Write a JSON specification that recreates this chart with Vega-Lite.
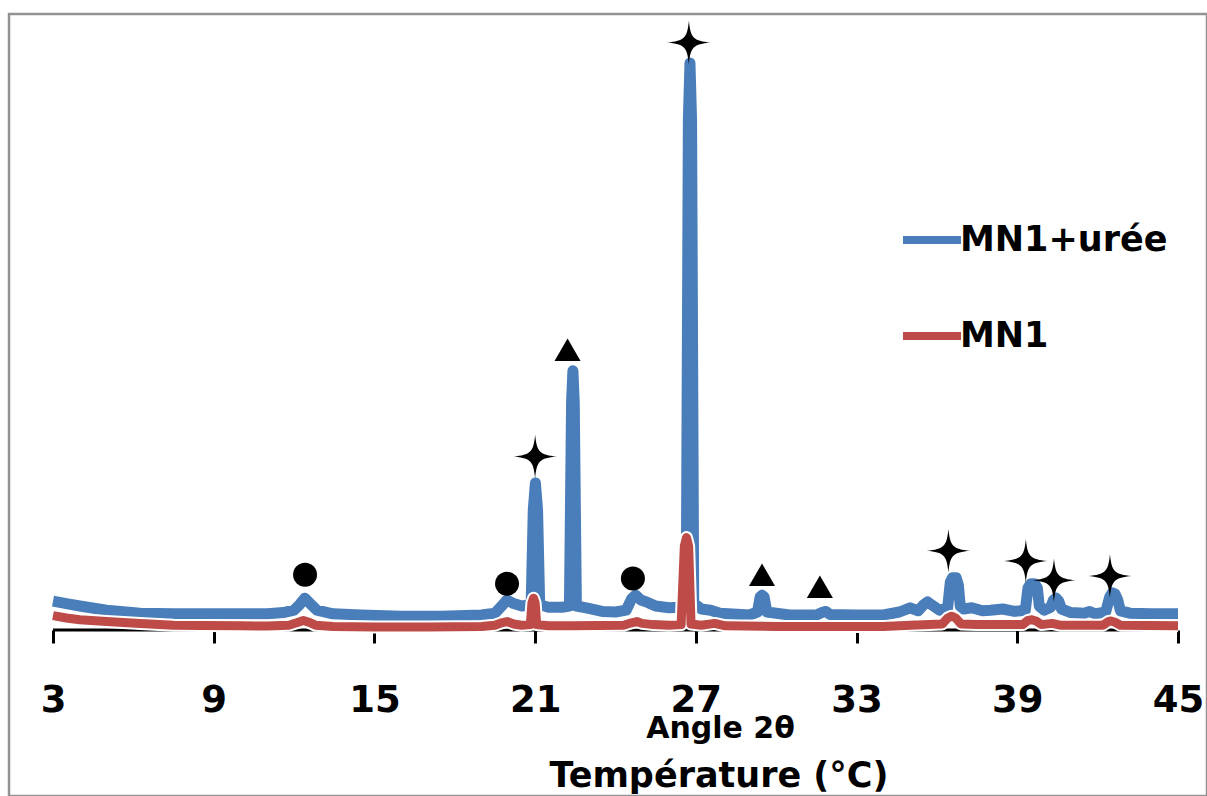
{
  "$schema": "https://vega.github.io/schema/vega-lite/v6.json",
  "width": 1198,
  "height": 782,
  "autosize": {"type": "none"},
  "padding": {"left": 9, "top": 14, "right": 0, "bottom": 0},
  "background": "white",
  "config": {
    "view": {"stroke": "#939393", "strokeWidth": 2.5},
    "font": "DejaVu Sans"
  },
  "datasets": {
    "spectra": [
      {"series": "MN1+urée", "angle": 3.0, "intensity": 48},
      {"series": "MN1+urée", "angle": 3.5, "intensity": 44},
      {"series": "MN1+urée", "angle": 4.0, "intensity": 40},
      {"series": "MN1+urée", "angle": 5.0, "intensity": 33},
      {"series": "MN1+urée", "angle": 6.25, "intensity": 28},
      {"series": "MN1+urée", "angle": 7.5, "intensity": 27},
      {"series": "MN1+urée", "angle": 8.5, "intensity": 27},
      {"series": "MN1+urée", "angle": 10.0, "intensity": 27},
      {"series": "MN1+urée", "angle": 11.0, "intensity": 27},
      {"series": "MN1+urée", "angle": 11.6, "intensity": 29},
      {"series": "MN1+urée", "angle": 12.0, "intensity": 33},
      {"series": "MN1+urée", "angle": 12.2, "intensity": 42},
      {"series": "MN1+urée", "angle": 12.4, "intensity": 53},
      {"series": "MN1+urée", "angle": 12.6, "intensity": 44},
      {"series": "MN1+urée", "angle": 12.85, "intensity": 33},
      {"series": "MN1+urée", "angle": 13.45, "intensity": 27},
      {"series": "MN1+urée", "angle": 14.5, "intensity": 25},
      {"series": "MN1+urée", "angle": 16.0, "intensity": 23},
      {"series": "MN1+urée", "angle": 17.5, "intensity": 23},
      {"series": "MN1+urée", "angle": 19.0, "intensity": 25},
      {"series": "MN1+urée", "angle": 19.5, "intensity": 28},
      {"series": "MN1+urée", "angle": 19.75, "intensity": 40},
      {"series": "MN1+urée", "angle": 19.95, "intensity": 50},
      {"series": "MN1+urée", "angle": 20.2, "intensity": 44},
      {"series": "MN1+urée", "angle": 20.5, "intensity": 40},
      {"series": "MN1+urée", "angle": 20.85, "intensity": 42},
      {"series": "MN1+urée", "angle": 20.93, "intensity": 200},
      {"series": "MN1+urée", "angle": 21.01, "intensity": 245},
      {"series": "MN1+urée", "angle": 21.09, "intensity": 200},
      {"series": "MN1+urée", "angle": 21.17, "intensity": 42},
      {"series": "MN1+urée", "angle": 21.5, "intensity": 38},
      {"series": "MN1+urée", "angle": 22.0, "intensity": 38},
      {"series": "MN1+urée", "angle": 22.28, "intensity": 40},
      {"series": "MN1+urée", "angle": 22.36, "intensity": 380},
      {"series": "MN1+urée", "angle": 22.41, "intensity": 432},
      {"series": "MN1+urée", "angle": 22.46, "intensity": 380},
      {"series": "MN1+urée", "angle": 22.54, "intensity": 40},
      {"series": "MN1+urée", "angle": 23.0, "intensity": 36},
      {"series": "MN1+urée", "angle": 23.5, "intensity": 31},
      {"series": "MN1+urée", "angle": 24.0, "intensity": 30},
      {"series": "MN1+urée", "angle": 24.4, "intensity": 33},
      {"series": "MN1+urée", "angle": 24.6, "intensity": 52},
      {"series": "MN1+urée", "angle": 24.75, "intensity": 58},
      {"series": "MN1+urée", "angle": 24.95, "intensity": 50},
      {"series": "MN1+urée", "angle": 25.2, "intensity": 46},
      {"series": "MN1+urée", "angle": 25.5, "intensity": 40},
      {"series": "MN1+urée", "angle": 26.0, "intensity": 37},
      {"series": "MN1+urée", "angle": 26.4, "intensity": 38},
      {"series": "MN1+urée", "angle": 26.64, "intensity": 40},
      {"series": "MN1+urée", "angle": 26.72, "intensity": 850},
      {"series": "MN1+urée", "angle": 26.78, "intensity": 945},
      {"series": "MN1+urée", "angle": 26.84, "intensity": 850},
      {"series": "MN1+urée", "angle": 26.92, "intensity": 45},
      {"series": "MN1+urée", "angle": 27.2, "intensity": 35},
      {"series": "MN1+urée", "angle": 27.55, "intensity": 33},
      {"series": "MN1+urée", "angle": 27.9, "intensity": 28},
      {"series": "MN1+urée", "angle": 29.0, "intensity": 25},
      {"series": "MN1+urée", "angle": 29.3, "intensity": 30},
      {"series": "MN1+urée", "angle": 29.4, "intensity": 55},
      {"series": "MN1+urée", "angle": 29.47, "intensity": 58},
      {"series": "MN1+urée", "angle": 29.55, "intensity": 55},
      {"series": "MN1+urée", "angle": 29.65, "intensity": 30},
      {"series": "MN1+urée", "angle": 30.5, "intensity": 25},
      {"series": "MN1+urée", "angle": 31.5, "intensity": 25},
      {"series": "MN1+urée", "angle": 31.75, "intensity": 30},
      {"series": "MN1+urée", "angle": 31.85, "intensity": 31},
      {"series": "MN1+urée", "angle": 32.0, "intensity": 26},
      {"series": "MN1+urée", "angle": 33.0, "intensity": 25},
      {"series": "MN1+urée", "angle": 34.0, "intensity": 25},
      {"series": "MN1+urée", "angle": 34.6, "intensity": 30},
      {"series": "MN1+urée", "angle": 35.0, "intensity": 37},
      {"series": "MN1+urée", "angle": 35.3, "intensity": 32},
      {"series": "MN1+urée", "angle": 35.5, "intensity": 42},
      {"series": "MN1+urée", "angle": 35.65, "intensity": 47},
      {"series": "MN1+urée", "angle": 35.8, "intensity": 42},
      {"series": "MN1+urée", "angle": 36.1, "intensity": 33},
      {"series": "MN1+urée", "angle": 36.4, "intensity": 37},
      {"series": "MN1+urée", "angle": 36.5, "intensity": 80},
      {"series": "MN1+urée", "angle": 36.58, "intensity": 87},
      {"series": "MN1+urée", "angle": 36.72, "intensity": 87},
      {"series": "MN1+urée", "angle": 36.8, "intensity": 75},
      {"series": "MN1+urée", "angle": 36.87, "intensity": 40},
      {"series": "MN1+urée", "angle": 37.0, "intensity": 35},
      {"series": "MN1+urée", "angle": 37.3, "intensity": 37},
      {"series": "MN1+urée", "angle": 37.7, "intensity": 32},
      {"series": "MN1+urée", "angle": 38.0, "intensity": 33},
      {"series": "MN1+urée", "angle": 38.45, "intensity": 35},
      {"series": "MN1+urée", "angle": 38.9, "intensity": 31},
      {"series": "MN1+urée", "angle": 39.3, "intensity": 33},
      {"series": "MN1+urée", "angle": 39.4, "intensity": 70},
      {"series": "MN1+urée", "angle": 39.5, "intensity": 77},
      {"series": "MN1+urée", "angle": 39.65, "intensity": 77},
      {"series": "MN1+urée", "angle": 39.75, "intensity": 70},
      {"series": "MN1+urée", "angle": 39.82, "intensity": 40},
      {"series": "MN1+urée", "angle": 40.0, "intensity": 33},
      {"series": "MN1+urée", "angle": 40.25, "intensity": 38},
      {"series": "MN1+urée", "angle": 40.35, "intensity": 50},
      {"series": "MN1+urée", "angle": 40.45, "intensity": 53},
      {"series": "MN1+urée", "angle": 40.55, "intensity": 48},
      {"series": "MN1+urée", "angle": 40.65, "intensity": 35},
      {"series": "MN1+urée", "angle": 41.0, "intensity": 29},
      {"series": "MN1+urée", "angle": 41.5, "intensity": 28},
      {"series": "MN1+urée", "angle": 41.7, "intensity": 31},
      {"series": "MN1+urée", "angle": 41.9, "intensity": 27},
      {"series": "MN1+urée", "angle": 42.3, "intensity": 30},
      {"series": "MN1+urée", "angle": 42.45, "intensity": 55},
      {"series": "MN1+urée", "angle": 42.55, "intensity": 62},
      {"series": "MN1+urée", "angle": 42.65, "intensity": 60},
      {"series": "MN1+urée", "angle": 42.75, "intensity": 50},
      {"series": "MN1+urée", "angle": 42.85, "intensity": 32},
      {"series": "MN1+urée", "angle": 43.2, "intensity": 28},
      {"series": "MN1+urée", "angle": 44.0, "intensity": 27},
      {"series": "MN1+urée", "angle": 45.0, "intensity": 27},
      {"series": "MN1", "angle": 3.0, "intensity": 24},
      {"series": "MN1", "angle": 3.5, "intensity": 20},
      {"series": "MN1", "angle": 4.0, "intensity": 17},
      {"series": "MN1", "angle": 5.0, "intensity": 14},
      {"series": "MN1", "angle": 6.25, "intensity": 11},
      {"series": "MN1", "angle": 7.5, "intensity": 8},
      {"series": "MN1", "angle": 8.5, "intensity": 7.5},
      {"series": "MN1", "angle": 10.0, "intensity": 7},
      {"series": "MN1", "angle": 11.0, "intensity": 6.5},
      {"series": "MN1", "angle": 11.8, "intensity": 8},
      {"series": "MN1", "angle": 12.1, "intensity": 12},
      {"series": "MN1", "angle": 12.35, "intensity": 16},
      {"series": "MN1", "angle": 12.55, "intensity": 13},
      {"series": "MN1", "angle": 12.8, "intensity": 8},
      {"series": "MN1", "angle": 13.45, "intensity": 6},
      {"series": "MN1", "angle": 15.0, "intensity": 5},
      {"series": "MN1", "angle": 17.0, "intensity": 5},
      {"series": "MN1", "angle": 19.0, "intensity": 6},
      {"series": "MN1", "angle": 19.5, "intensity": 8},
      {"series": "MN1", "angle": 19.75, "intensity": 12},
      {"series": "MN1", "angle": 19.95, "intensity": 14},
      {"series": "MN1", "angle": 20.2, "intensity": 10},
      {"series": "MN1", "angle": 20.5, "intensity": 8},
      {"series": "MN1", "angle": 20.82, "intensity": 9},
      {"series": "MN1", "angle": 20.88, "intensity": 45},
      {"series": "MN1", "angle": 20.94, "intensity": 53},
      {"series": "MN1", "angle": 21.0, "intensity": 45},
      {"series": "MN1", "angle": 21.06, "intensity": 9},
      {"series": "MN1", "angle": 21.5, "intensity": 7},
      {"series": "MN1", "angle": 22.4, "intensity": 7},
      {"series": "MN1", "angle": 24.3, "intensity": 8},
      {"series": "MN1", "angle": 24.6, "intensity": 12},
      {"series": "MN1", "angle": 24.8, "intensity": 14},
      {"series": "MN1", "angle": 25.0, "intensity": 11},
      {"series": "MN1", "angle": 25.4, "intensity": 9},
      {"series": "MN1", "angle": 26.0, "intensity": 8},
      {"series": "MN1", "angle": 26.45, "intensity": 9},
      {"series": "MN1", "angle": 26.57, "intensity": 140},
      {"series": "MN1", "angle": 26.65, "intensity": 154},
      {"series": "MN1", "angle": 26.73, "intensity": 140},
      {"series": "MN1", "angle": 26.82, "intensity": 10},
      {"series": "MN1", "angle": 27.2, "intensity": 8},
      {"series": "MN1", "angle": 27.7, "intensity": 11},
      {"series": "MN1", "angle": 28.1, "intensity": 7},
      {"series": "MN1", "angle": 30.0, "intensity": 6},
      {"series": "MN1", "angle": 34.0, "intensity": 6},
      {"series": "MN1", "angle": 35.0, "intensity": 8},
      {"series": "MN1", "angle": 36.2, "intensity": 10},
      {"series": "MN1", "angle": 36.4, "intensity": 20},
      {"series": "MN1", "angle": 36.55, "intensity": 23},
      {"series": "MN1", "angle": 36.7, "intensity": 20},
      {"series": "MN1", "angle": 36.9, "intensity": 10},
      {"series": "MN1", "angle": 37.5, "intensity": 9},
      {"series": "MN1", "angle": 39.2, "intensity": 9},
      {"series": "MN1", "angle": 39.4, "intensity": 16},
      {"series": "MN1", "angle": 39.55, "intensity": 17},
      {"series": "MN1", "angle": 39.7, "intensity": 15},
      {"series": "MN1", "angle": 39.9, "intensity": 9},
      {"series": "MN1", "angle": 40.3, "intensity": 11},
      {"series": "MN1", "angle": 40.6, "intensity": 8},
      {"series": "MN1", "angle": 42.2, "intensity": 8},
      {"series": "MN1", "angle": 42.4, "intensity": 14},
      {"series": "MN1", "angle": 42.5, "intensity": 15},
      {"series": "MN1", "angle": 42.65, "intensity": 13},
      {"series": "MN1", "angle": 42.85, "intensity": 8},
      {"series": "MN1", "angle": 45.0, "intensity": 7}
    ],
    "markers": [
      {"symbol": "star", "angle": 26.74, "intensity": 979},
      {"symbol": "star", "angle": 21.0, "intensity": 289},
      {"symbol": "star", "angle": 36.43, "intensity": 132},
      {"symbol": "star", "angle": 39.32, "intensity": 115},
      {"symbol": "star", "angle": 40.37, "intensity": 83},
      {"symbol": "star", "angle": 42.46, "intensity": 90},
      {"symbol": "circle", "angle": 12.41, "intensity": 92},
      {"symbol": "circle", "angle": 19.95, "intensity": 77},
      {"symbol": "circle", "angle": 24.65, "intensity": 86},
      {"symbol": "triangle", "angle": 22.21, "intensity": 467},
      {"symbol": "triangle", "angle": 29.47, "intensity": 92},
      {"symbol": "triangle", "angle": 31.63, "intensity": 72}
    ]
  },
  "layer": [
    {
      "data": {"values": [{"from": 3, "to": 45, "level": 0}]},
      "mark": {"type": "rule", "color": "black", "strokeWidth": 3},
      "encoding": {
        "x": {
          "field": "from", "type": "quantitative",
          "scale": {"domain": [1.35733, 46.0827], "nice": false, "zero": false},
          "axis": {
            "values": [3, 9, 15, 21, 27, 33, 39, 45],
            "domain": false, "grid": false,
            "ticks": true, "tickSize": 13, "tickWidth": 3, "tickColor": "black",
            "offset": -166,
            "labelFont": "DejaVu Sans", "labelFontWeight": "bold", "labelFontSize": 37, "labelColor": "black",
            "labelBaseline": "alphabetic", "labelPadding": 68, "labelFlush": false, "labelOverlap": false,
            "title": "Angle 2θ",
            "titleFont": "DejaVu Sans", "titleFontWeight": "bold", "titleFontSize": 30, "titleColor": "black",
            "titleX": 711, "titleY": 107, "titleAlign": "center", "titleBaseline": "alphabetic"
          }
        },
        "x2": {"field": "to"},
        "y": {"field": "level", "type": "quantitative", "scale": {"domain": [-276.667, 1026.667], "nice": false, "zero": false}, "axis": null}
      }
    },
    {
      "data": {"name": "spectra"},
      "transform": [{"filter": "datum.series === 'MN1+urée'"}],
      "mark": {"type": "line", "strokeWidth": 11, "strokeJoin": "round"},
      "encoding": {
        "x": {"field": "angle", "type": "quantitative"},
        "y": {"field": "intensity", "type": "quantitative"},
        "color": {
          "field": "series", "type": "nominal",
          "scale": {"domain": ["MN1+urée", "MN1"], "range": ["#4a7ebb", "#be4b48"]},
          "legend": {
            "orient": "none", "legendX": 890, "legendY": 193, "title": null,
            "symbolType": "stroke", "symbolSize": 3364, "symbolStrokeWidth": 8,
            "labelFont": "DejaVu Sans", "labelFontWeight": "bold", "labelFontSize": 35, "labelColor": "black",
            "labelOffset": -5, "rowPadding": 45, "labelLimit": 0
          }
        }
      }
    },
    {
      "data": {"name": "spectra"},
      "transform": [{"filter": "datum.series === 'MN1'"}],
      "mark": {"type": "line", "strokeWidth": 13, "strokeJoin": "round", "color": "white"},
      "encoding": {
        "x": {"field": "angle", "type": "quantitative"},
        "y": {"field": "intensity", "type": "quantitative"}
      }
    },
    {
      "data": {"name": "spectra"},
      "transform": [{"filter": "datum.series === 'MN1'"}],
      "mark": {"type": "line", "strokeWidth": 9, "strokeJoin": "round"},
      "encoding": {
        "x": {"field": "angle", "type": "quantitative"},
        "y": {"field": "intensity", "type": "quantitative"},
        "color": {"field": "series", "type": "nominal"}
      }
    },
    {
      "data": {"name": "markers"},
      "transform": [{"filter": "datum.symbol === 'star'"}],
      "mark": {"type": "point", "filled": true, "opacity": 1, "color": "black", "size": 1900,
        "shape": "M0,-1 C0.08,-0.2 0.2,-0.08 1,0 C0.2,0.08 0.08,0.2 0,1 C-0.08,0.2 -0.2,0.08 -1,0 C-0.2,-0.08 -0.08,-0.2 0,-1 Z"},
      "encoding": {
        "x": {"field": "angle", "type": "quantitative"},
        "y": {"field": "intensity", "type": "quantitative"}
      }
    },
    {
      "data": {"name": "markers"},
      "transform": [{"filter": "datum.symbol === 'circle'"}],
      "mark": {"type": "point", "filled": true, "opacity": 1, "color": "black", "size": 576, "shape": "circle"},
      "encoding": {
        "x": {"field": "angle", "type": "quantitative"},
        "y": {"field": "intensity", "type": "quantitative"}
      }
    },
    {
      "data": {"name": "markers"},
      "transform": [{"filter": "datum.symbol === 'triangle'"}],
      "mark": {"type": "point", "filled": true, "opacity": 1, "color": "black", "size": 680, "shape": "triangle-up"},
      "encoding": {
        "x": {"field": "angle", "type": "quantitative"},
        "y": {"field": "intensity", "type": "quantitative"}
      }
    },
    {
      "data": {"values": [{"label": "Température (°C)", "angle": 27.864, "intensity": -261.7}]},
      "mark": {"type": "text", "font": "DejaVu Sans", "fontWeight": "bold", "fontSize": 35, "color": "black", "align": "center", "baseline": "alphabetic"},
      "encoding": {
        "x": {"field": "angle", "type": "quantitative"},
        "y": {"field": "intensity", "type": "quantitative"},
        "text": {"field": "label"}
      }
    }
  ]
}
